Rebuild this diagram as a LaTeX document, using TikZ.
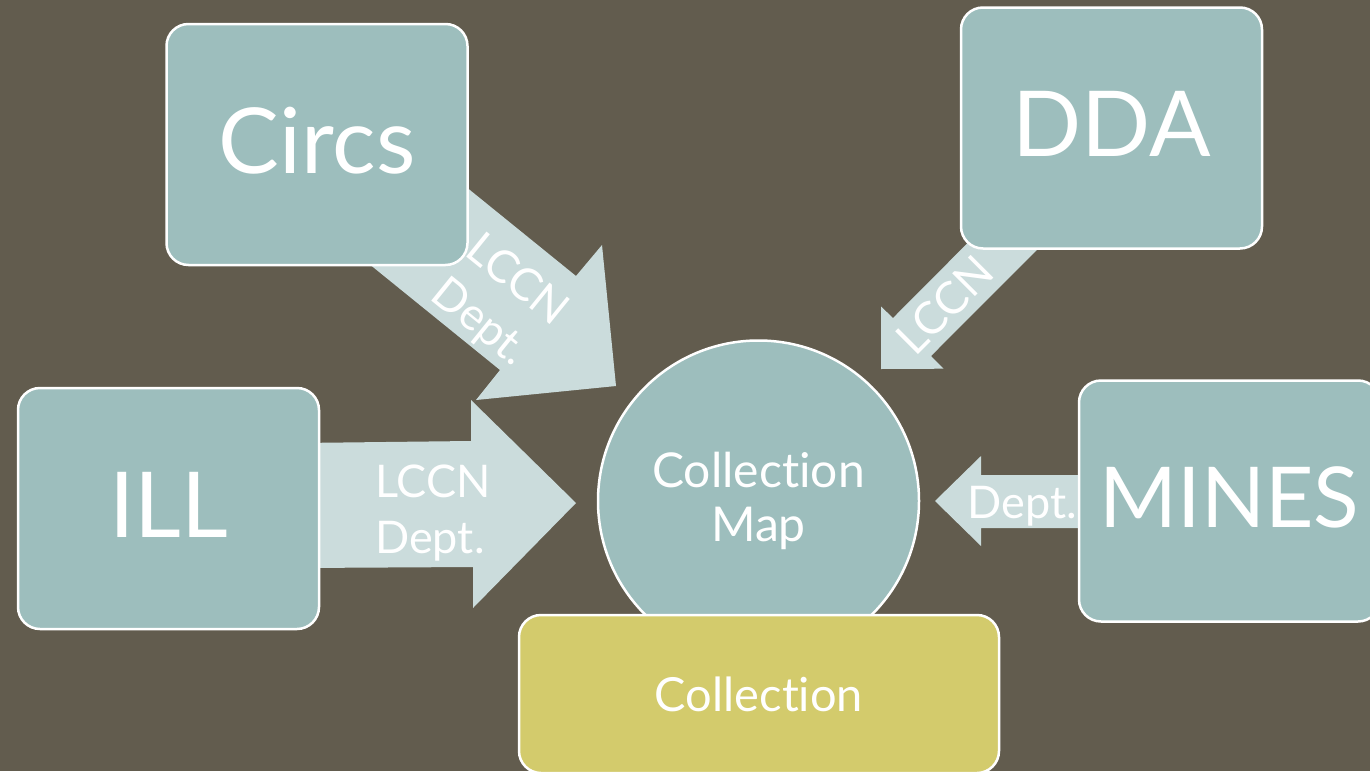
\documentclass[tikz,border=0pt]{standalone}
\usepackage{fontspec}
\setmainfont{Lato}[Ligatures=NoCommon]
\definecolor{bgc}{RGB}{98,92,78}
\definecolor{boxc}{RGB}{157,190,189}
\definecolor{arrc}{RGB}{203,220,220}
\definecolor{yelc}{RGB}{211,203,108}
\tikzset{
  srcbox/.style={draw=white, line width=2.5pt, fill=boxc, rounded corners=22pt,
    minimum width=301pt, minimum height=241pt, text=white,
    font=\fontsize{91}{100}\selectfont, text depth=8pt, inner sep=0pt},
  blockarrow/.style={fill=arrc},
  arrtext/.style={text=white, font=\fontsize{45}{56}\selectfont, inner sep=0pt},
}
\begin{document}
\begin{tikzpicture}[x=1pt,y=-1pt]
\useasboundingbox (0,0) rectangle (1370,771);
\fill[bgc] (0,0) rectangle (1370,771);
\clip (0,0) rectangle (1370,771);
% block arrows
\fill[blockarrow] (300,443) -- (471,441) -- (471,400) -- (576,503) -- (473,608) -- (473,567) -- (300,568) -- cycle;
\fill[blockarrow] (365,105) -- (576,276) -- (602,245) -- (616,386) -- (476,400) -- (500,370) -- (289,199) -- cycle;
\fill[blockarrow] (1100,110) -- (893,318) -- (881,306.5) -- (881,369) -- (943.5,368.7) -- (931,356) -- (1138,148.5) -- cycle;
\fill[blockarrow] (1100,475) -- (981,475) -- (981,456) -- (935,501) -- (981,546) -- (981,528) -- (1100,528) -- cycle;
% arrow labels
\node[arrtext, align=left, anchor=west] (tILL) at (375,513) {LCCN\\Dept.};
\node[arrtext, align=left, rotate=-39] (tCircs) at (499,303) {LCCN\\Dept.};
\node[arrtext, rotate=45] (tDDA) at (945,305) {LCCN};
\node[arrtext, anchor=base] (tMINES) at (1022,518) {Dept.};
% source boxes
\node[srcbox] (circs) at (317,144.5) {Circs};
\node[srcbox] (dda) at (1111.5,128) {DDA};
\node[srcbox] (ill) at (168.5,508.5) {ILL};
\node[srcbox, font=\fontsize{84}{92}\selectfont] (mines) at (1229.5,501) {MINES};
% centre
\node[circle, draw=white, line width=2.5pt, fill=boxc, minimum size=321pt, inner sep=0pt,
  text=white, align=center, font=\fontsize{48}{54}\selectfont] (map) at (758.5,501) {Collection\\Map};
\node[draw=white, line width=2.5pt, fill=yelc, rounded corners=22pt, minimum width=480pt,
  minimum height=158pt, text=white, font=\fontsize{47}{54}\selectfont] (coll) at (759,694) {Collection};
\end{tikzpicture}
\end{document}
